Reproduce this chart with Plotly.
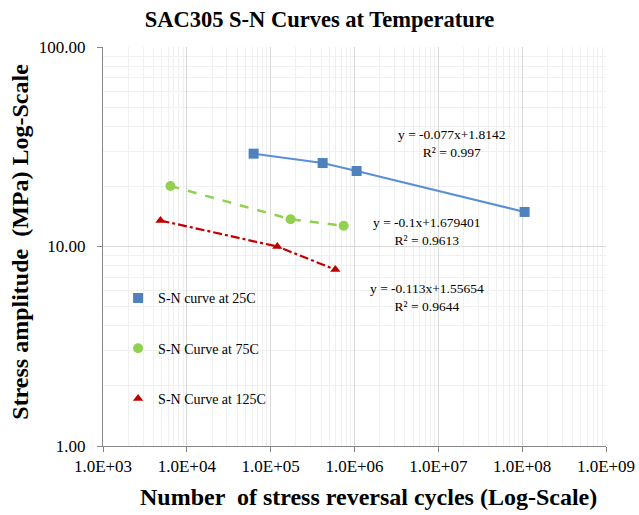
import plotly.graph_objects as go

# S-N fatigue data for SAC305 solder at three test temperatures
cycles_25c = [6.26e4, 4.17e5, 1.06e6, 1.07e8]
stress_25c = [29.2, 26.2, 23.9, 14.9]

cycles_75c = [6.38e3, 1.73e5, 7.43e5]
stress_75c = [20.1, 13.7, 12.7]

cycles_125c = [4.85e3, 1.20e5, 5.90e5]
stress_125c = [13.5, 10.0, 7.66]

series_names = ["S-N curve at 25C", "S-N Curve at 75C", "S-N Curve at 125C"]
fit_labels = [
    "y = -0.077x+1.8142<br>R² = 0.997",
    "y = -0.1x+1.679401<br>R² = 0.9613",
    "y = -0.113x+1.55654<br>R² = 0.9644",
]

x_tick_vals = [1e3, 1e4, 1e5, 1e6, 1e7, 1e8, 1e9]
x_tick_text = ["1.0E+03", "1.0E+04", "1.0E+05", "1.0E+06", "1.0E+07", "1.0E+08", "1.0E+09"]
y_tick_vals = [1, 10, 100]
y_tick_text = ["1.00", "10.00", "100.00"]

FONT = "Liberation Serif, Times New Roman, serif"

styles = [
    dict(color="#4F81BD", line="#5A8FD8", symbol="square", size=10, dash="solid", width=2),
    dict(color="#92D050", line="#92D050", symbol="circle", size=10, dash="dash", width=2.5),
    dict(color="#C00000", line="#C00000", symbol="triangle-up", size=9, dash="dashdot", width=2.2),
]
datasets = [(cycles_25c, stress_25c), (cycles_75c, stress_75c), (cycles_125c, stress_125c)]

fig = go.Figure()
for i, ((xs, ys), name, st) in enumerate(zip(datasets, series_names, styles)):
    fig.add_trace(go.Scatter(
        x=xs, y=ys, mode="lines", showlegend=False, hoverinfo="skip",
        line=dict(color=st["line"], width=st["width"], dash=st["dash"]),
    ))
    fig.add_trace(go.Scatter(
        x=xs, y=ys, mode="markers", name=name, legendgroup=f"g{i}",
        marker=dict(color=st["color"], symbol=st["symbol"], size=st["size"]),
    ))

# regression equations placed beside each curve (log10 coordinates on log axes)
fit_pos = [(7.16, 1.514), (6.86, 1.073), (6.87, 0.745)]
for (fx, fy), txt in zip(fit_pos, fit_labels):
    fig.add_annotation(
        x=fx, y=fy, xref="x", yref="y", text=txt, showarrow=False,
        font=dict(family=FONT, size=13.5, color="#000000"), align="center",
    )

# axis titles as free annotations so they can sit off-centre
fig.add_annotation(
    x=0.527, y=-0.128, xref="paper", yref="paper", xanchor="center", yanchor="middle",
    text="<b>Number  of stress reversal cycles (Log-Scale)</b>", showarrow=False,
    font=dict(family=FONT, size=24, color="#000000"),
)
fig.add_annotation(
    x=-0.165, y=0.512, xref="paper", yref="paper", xanchor="center", yanchor="middle",
    text="<b>Stress amplitude  (MPa) Log-Scale</b>", showarrow=False, textangle=-90,
    font=dict(family=FONT, size=24, color="#000000"),
)

minor_x = [m * 10 ** e for e in range(3, 9) for m in range(2, 10)]
minor_y = [m * 10 ** e for e in range(0, 2) for m in range(2, 10)]

fig.update_layout(
    width=639, height=515,
    margin=dict(l=103, r=33, t=47, b=69),
    paper_bgcolor="white", plot_bgcolor="white",
    font=dict(family=FONT, color="#000000"),
    title=dict(
        text="<b>SAC305 S-N Curves at Temperature</b>",
        x=0.5, xanchor="center", y=0.962, yanchor="middle",
        font=dict(family=FONT, size=22.5, color="#000000"),
    ),
    legend=dict(
        x=0.030, y=0.41, xanchor="left", yanchor="top",
        bgcolor="rgba(0,0,0,0)", font=dict(family=FONT, size=14),
        tracegroupgap=29,
    ),
)

fig.update_xaxes(
    type="log", range=[3, 9], automargin=False,
    tickmode="array", tickvals=x_tick_vals, ticktext=x_tick_text,
    tickfont=dict(family=FONT, size=17), ticks="outside", ticklen=5, tickcolor="#868686",
    showline=True, linecolor="#868686", linewidth=1, mirror=False,
    showgrid=True, gridcolor="#D9D9D9", gridwidth=1, zeroline=False,
    minor=dict(tickmode="array", tickvals=minor_x, showgrid=True, gridcolor="#F0F0F0", ticks=""),
)
fig.update_yaxes(
    type="log", range=[0, 2], automargin=False,
    tickmode="array", tickvals=y_tick_vals, ticktext=y_tick_text,
    tickfont=dict(family=FONT, size=17), ticks="outside", ticklen=5, tickcolor="#868686",
    ticklabelstandoff=8,
    showline=True, linecolor="#868686", linewidth=1, mirror=False,
    showgrid=True, gridcolor="#D9D9D9", gridwidth=1, zeroline=False,
    minor=dict(tickmode="array", tickvals=minor_y, showgrid=True, gridcolor="#F0F0F0", ticks=""),
)

fig.write_html("out.html")
